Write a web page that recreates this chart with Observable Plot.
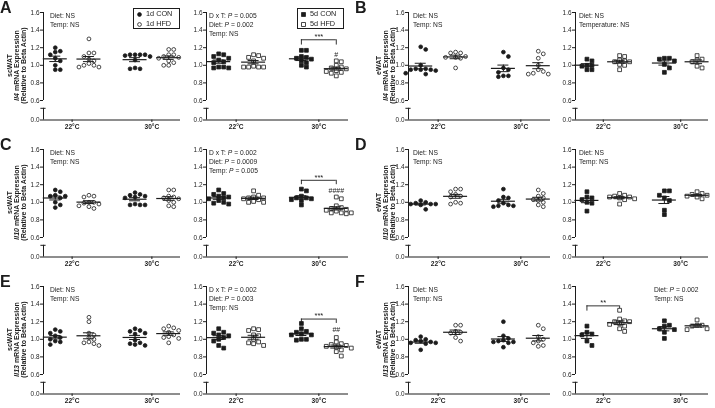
<!DOCTYPE html>
<html><head><meta charset="utf-8">
<script src="https://cdn.jsdelivr.net/npm/d3@7"></script>
<script src="https://cdn.jsdelivr.net/npm/@observablehq/plot@0.6"></script>
<style>
body{margin:0;background:#fff;}
#fig{position:relative;width:715px;height:408px;font-family:"Liberation Sans",Arial,Helvetica,sans-serif;color:#1c1c1c;overflow:hidden;background:#fff;filter:grayscale(1);}
.letter{position:absolute;font-weight:bold;font-size:16px;line-height:16px;}
.ann{position:absolute;font-size:6.7px;line-height:9px;white-space:nowrap;}
.ytitle{position:absolute;width:120px;height:21px;font-weight:bold;font-size:7px;line-height:6.8px;text-align:center;white-space:nowrap;transform:rotate(-90deg);transform-origin:center center;}
.legend{position:absolute;border:0.8px solid #1c1c1c;font-size:7.3px;line-height:10px;white-space:nowrap;padding:0 2px 0 3px;box-sizing:border-box;}
.legend svg{vertical-align:middle;margin-right:4px;}
</style></head>
<body><div id="fig"></div>
<script>
// ---------- categories ----------
const temps = ["22°C", "30°C"];
const diets = ["CON", "HFD"];
const yTicks = [0, 0.6, 0.8, 1.0, 1.2, 1.4, 1.6];
// each subplot: [22°C CON, 22°C HFD, 30°C CON, 30°C HFD]
// scWAT Il4
const A1 = [[1.20,1.15,1.16,1.12,1.08,1.05,1.00,0.95,0.95],
            [1.30,1.14,1.14,1.10,1.07,1.05,1.02,1.00,0.98,0.98,1.00],
            [1.12,1.12,1.12,1.12,1.11,1.10,1.06,0.97,0.96,0.96],
            [1.18,1.18,1.12,1.10,1.09,1.08,1.05,1.03,1.00,1.00,1.12]];
const A5 = [[1.13,1.12,1.10,1.08,1.06,1.04,1.03,0.98,0.97,0.97,0.98],
            [1.12,1.11,1.09,1.08,1.05,0.99,0.98,0.98,0.98,0.98],
            [1.17,1.17,1.10,1.09,1.08,1.07,1.05,1.03,1.00,0.98],
            [1.05,1.04,1.00,0.98,0.97,0.96,0.94,0.93,0.92,0.91,0.88]];
// eWAT Il4
const B1 = [[1.21,1.18,1.00,0.96,0.96,0.95,0.95,0.95,0.94,0.91,0.90],
            [1.15,1.14,1.14,1.10,1.09,1.09,1.08,0.97],
            [1.15,1.10,0.97,0.95,0.92,0.88,0.87,0.88],
            [1.16,1.13,1.08,1.00,0.95,0.90,0.91,0.90,0.93]];
const B5 = [[1.07,1.05,1.00,1.00,0.99,0.95,0.95],
            [1.11,1.10,1.06,1.05,1.04,1.04,1.01,1.00,0.95],
            [1.08,1.08,1.07,1.05,1.01,0.97,0.92],
            [1.11,1.07,1.06,1.04,0.99,0.97]];
// scWAT Il10
const C1 = [[1.14,1.12,1.08,1.07,1.07,1.05,1.00,0.97,0.94],
            [1.08,1.07,1.06,1.00,1.00,0.99,0.98,0.96,0.95,0.93],
            [1.11,1.09,1.08,1.07,1.06,1.05,0.98,0.97,0.97,0.97],
            [1.14,1.14,1.07,1.06,1.05,1.04,1.02,1.00,0.96,0.95]];
const C5 = [[1.14,1.10,1.09,1.07,1.06,1.05,1.04,1.02,1.00,0.98,0.99],
            [1.13,1.08,1.06,1.05,1.05,1.04,1.03,1.01,1.00,1.00],
            [1.15,1.13,1.07,1.05,1.05,1.04,1.03,1.02,0.97],
            [1.06,1.04,0.96,0.94,0.93,0.92,0.91,0.90,0.88,0.88,0.87,0.88]];
// eWAT Il10
const D1 = [[1.02,1.00,0.99,0.98,0.98,0.98,0.97,0.92],
            [1.15,1.15,1.12,1.09,1.07,1.06,1.00,0.98,0.99],
            [1.15,1.06,1.05,1.02,0.99,0.97,0.96,0.95,0.96],
            [1.14,1.10,1.07,1.05,1.03,1.02,1.00,0.97,0.95]];
const D5 = [[1.12,1.06,1.05,1.03,1.00,0.99,0.90],
            [1.10,1.08,1.07,1.06,1.06,1.05,1.04,1.03,0.98],
            [1.13,1.13,1.08,1.05,1.02,0.91,0.86],
            [1.12,1.10,1.09,1.08,1.07,1.06,1.04]];
// scWAT Il13
const E1 = [[1.11,1.09,1.07,1.04,1.02,1.00,0.98,0.97,0.94],
            [1.25,1.20,1.07,1.05,1.02,1.00,0.97,0.96,0.95,0.93],
            [1.12,1.10,1.09,1.07,1.06,0.99,0.96,0.95,0.94,0.93],
            [1.15,1.13,1.12,1.10,1.08,1.05,1.03,1.02,1.01,0.96]];
const E5 = [[1.12,1.08,1.07,1.05,1.04,1.02,1.00,0.98,0.93,0.90],
            [1.12,1.11,1.10,1.05,1.04,1.00,0.97,0.95,0.93,0.96],
            [1.18,1.12,1.09,1.08,1.06,1.05,1.05,1.00,0.99,1.00],
            [1.02,0.97,0.95,0.94,0.93,0.92,0.91,0.90,0.88,0.86,0.81]];
// eWAT Il13
const F1 = [[1.03,1.00,0.99,0.98,0.97,0.96,0.96,0.95,0.88],
            [1.16,1.16,1.09,1.08,1.07,1.02,0.98],
            [1.20,1.04,1.01,0.99,0.98,0.97,0.97,0.91,0.96],
            [1.16,1.12,1.03,1.00,0.98,0.96,0.93,0.92]];
const F5 = [[1.15,1.08,1.06,1.05,0.98,0.93],
            [1.33,1.23,1.21,1.20,1.20,1.18,1.17,1.15,1.12,1.09],
            [1.21,1.16,1.15,1.12,1.11,1.08,1.01],
            [1.22,1.16,1.16,1.15,1.12,1.11]];

// ---------- texts ----------
const letters = ["A","B","C","D","E","F"];
const tissues = ["scWAT","eWAT","scWAT","eWAT","scWAT","eWAT"];
const genes = ["Il4","Il4","Il10","Il10","Il13","Il13"];
const annA1 = ["Diet: NS","Temp: NS"];
const annA5 = ["D x T: P = 0.005","Diet: P = 0.002","Temp: NS"];
const annB1 = ["Diet: NS","Temp: NS"];
const annB5 = ["Diet: NS","Temperature: NS"];
const annC1 = ["Diet: NS","Temp: NS"];
const annC5 = ["D x  T: P = 0.002","Diet: P = 0.0009","Temp: P = 0.005"];
const annD1 = ["Diet: NS","Temp: NS"];
const annD5 = ["Diet: NS","Temp: NS"];
const annE1 = ["Diet: NS","Temp: NS"];
const annE5 = ["D x T: P = 0.002","Diet: P = 0.003","Temp: NS"];
const annF1 = ["Diet: NS","Temp: NS"];
const annF5 = ["Diet: P = 0.002","Temp: NS"];
const legend1 = ["1d CON","1d HFD"];
const legend5 = ["5d CON","5d HFD"];

// ---------- layout ----------
const INK = "#1c1c1c";
const FONT = '"Liberation Sans", Arial, Helvetica, sans-serif';
const cols = [[43,180],[206,348],[408,550],[575,708]];
const rowTops = [11.5, 148.5, 285.5];
const titleX = [16.5, 386];
const PPY = 88, LOWPX = 19.5;
const Y0 = 0.6 - LOWPX/PPY;          // where the broken-axis "0.0" sits on the linear scale
const yMap = v => v >= 0.6 ? v : Y0 + v/0.6*(0.6 - Y0);
const BREAKV = yMap(0.36);
const slot = [0, 1, 2.37, 3.37];
const XDOM = [-0.35, 3.72];
const fig = document.getElementById("fig");

// deterministic Prism-like spreading: points closer than one symbol in y share a row
function swarm(vals, ppy, dx, dy){
  const idx = d3.range(vals.length).sort((a,b)=>vals[b]-vals[a]);
  const placed = [], off = new Array(vals.length);
  for (const i of idx){
    const yi = vals[i]*ppy; let best = null;
    for (let k=0; k<200 && best===null; k++){
      const c = k===0 ? [0] : [k*0.5, -k*0.5];
      for (const cx of c){ if (placed.every(p => Math.abs(p.x-cx) >= dx || Math.abs(p.y-yi) >= dy)) { best = cx; break; } }
    }
    off[i] = best; placed.push({x: best, y: yi});
  }
  return off;
}

function fmtAnn(s){ return s.replace(/\bP =/g, "<i>P</i> ="); }

function addDiv(cls, html, style){
  const el = document.createElement("div"); el.className = cls; el.innerHTML = html;
  Object.assign(el.style, style); fig.appendChild(el); return el;
}

function subplot(p){
  const [x0,x1] = cols[p.col];
  const top = rowTops[p.row];
  const ml=20, mr=4, mt=8, mb=16;
  const innerW = x1-x0, innerH = PPY+LOWPX;
  const W = innerW+ml+mr, H = innerH+mt+mb;
  const ppx = innerW/(XDOM[1]-XDOM[0]);
  const pts = [], stats = [];
  p.vals.forEach((arr, gi) => {
    const off = swarm(arr, PPY, 4.8, 4.4);
    arr.forEach((v,i) => pts.push({gi, v, x: slot[gi] + off[i]/ppx, fill: gi%2===0 ? INK : "white"}));
    const m = d3.mean(arr), s = d3.deviation(arr)/Math.sqrt(arr.length);
    stats.push({x: slot[gi], m, lo: m-s, hi: m+s});
  });
  const sq = p.sym === "square";
  const xt = [ (slot[0]+slot[1])/2, (slot[2]+slot[3])/2 ];
  const marks = [
    Plot.ruleX([XDOM[0]], {y1: 0.6, y2: 1.6, stroke: INK, strokeWidth: 1}),
    Plot.ruleX([XDOM[0]], {y1: yMap(0), y2: BREAKV, stroke: INK, strokeWidth: 1}),
    Plot.ruleY([BREAKV], {x1: XDOM[0]-2.6/ppx, x2: XDOM[0]+2.6/ppx, stroke: INK, strokeWidth: 1}),
    Plot.ruleY([yMap(0)], {x1: XDOM[0], x2: XDOM[1], stroke: INK, strokeWidth: 1}),
    Plot.axisY({ticks: yTicks.map(yMap), tickFormat: d => d < 0.5 ? "0.0" : d3.format(".1f")(d), tickSize: 3, tickPadding: 1, fontSize: 6.4, label: null}),
    Plot.axisX({ticks: xt, tickFormat: d => d < 1.7 ? temps[0] : temps[1], tickSize: 2.5, tickPadding: 2, fontSize: 6.6, fontWeight: "bold", label: null}),
    Plot.dot(pts, {x: "x", y: "v", r: sq ? 2.15 : 1.9, symbol: sq ? "square" : "circle", fill: "fill", stroke: INK, strokeWidth: 0.8}),
    Plot.ruleY(stats, {y: "m", x1: d => d.x-12/ppx, x2: d => d.x+12/ppx, stroke: INK, strokeWidth: 1.2}),
    Plot.ruleX(stats, {x: "x", y1: "lo", y2: "hi", stroke: INK, strokeWidth: 1}),
    Plot.ruleY(stats, {y: "hi", x1: d => d.x-5.5/ppx, x2: d => d.x+5.5/ppx, stroke: INK, strokeWidth: 1}),
    Plot.ruleY(stats, {y: "lo", x1: d => d.x-5.5/ppx, x2: d => d.x+5.5/ppx, stroke: INK, strokeWidth: 1})
  ];
  if (p.br){
    const b = p.br, xa = slot[b.from], xb = slot[b.to];
    marks.push(
      Plot.ruleY([b.y], {x1: xa, x2: xb, stroke: INK, strokeWidth: 0.9}),
      Plot.ruleX([xa], {y1: b.y - b.dropA, y2: b.y, stroke: INK, strokeWidth: 0.9}),
      Plot.ruleX([xb], {y1: b.y - b.dropB, y2: b.y, stroke: INK, strokeWidth: 0.9}),
      Plot.text([b.stars], {x: (xa+xb)/2, y: b.y, text: d => d, dy: -3, fontSize: 7.5, fill: INK})
    );
    if (b.hash) marks.push(Plot.text([b.hash], {x: xb, y: b.hashY, text: d => d, fontSize: 7, fill: INK}));
  }
  const svg = Plot.plot({
    width: W, height: H, marginLeft: ml, marginRight: mr, marginTop: mt, marginBottom: mb,
    x: {domain: XDOM, range: [ml, W-mr], label: null},
    y: {domain: [Y0, 1.6], range: [H-mb, mt], label: null},
    style: {fontFamily: FONT, fontSize: "6.4px", color: INK, background: "transparent", overflow: "visible"},
    marks
  });
  svg.style.position = "absolute";
  svg.style.left = (x0-ml) + "px";
  svg.style.top = (top-mt) + "px";
  fig.appendChild(svg);
  const ax = p.annRight ? p.annRight : x0 + p.annDx;
  addDiv("ann", p.ann.map(fmtAnn).join("<br>"), {left: ax+"px", top: (top-1)+"px"});
}

function legend(x, y, labels, sq){
  const mk = (f) => sq
    ? `<svg width="5" height="5"><rect x="0.6" y="0.6" width="3.8" height="3.8" fill="${f}" stroke="${INK}" stroke-width="0.8"/></svg>`
    : `<svg width="5" height="5"><circle cx="2.5" cy="2.5" r="1.9" fill="${f}" stroke="${INK}" stroke-width="0.8"/></svg>`;
  addDiv("legend", `${mk(INK)}${labels[0]}<br>${mk("white")}${labels[1]}`, {left: x+"px", top: y+"px", width: "47px", height: "21px"});
}

const panels = [
  {vals: A1, col: 0, row: 0, sym: "circle", ann: annA1, annDx: 7},
  {vals: A5, col: 1, row: 0, sym: "square", ann: annA5, annDx: 3, br: {from: 2, to: 3, y: 1.29, dropA: 0.06, dropB: 0.06, stars: "***", hash: "#", hashY: 1.12}},
  {vals: B1, col: 2, row: 0, sym: "circle", ann: annB1, annDx: 5},
  {vals: B5, col: 3, row: 0, sym: "square", ann: annB5, annDx: 4},
  {vals: C1, col: 0, row: 1, sym: "circle", ann: annC1, annDx: 7},
  {vals: C5, col: 1, row: 1, sym: "square", ann: annC5, annDx: 3, br: {from: 2, to: 3, y: 1.25, dropA: 0.05, dropB: 0.05, stars: "***", hash: "####", hashY: 1.13}},
  {vals: D1, col: 2, row: 1, sym: "circle", ann: annD1, annDx: 5},
  {vals: D5, col: 3, row: 1, sym: "square", ann: annD5, annDx: 4},
  {vals: E1, col: 0, row: 2, sym: "circle", ann: annE1, annDx: 7},
  {vals: E5, col: 1, row: 2, sym: "square", ann: annE5, annDx: 3, br: {from: 2, to: 3, y: 1.23, dropA: 0.05, dropB: 0.05, stars: "***", hash: "##", hashY: 1.11}},
  {vals: F1, col: 2, row: 2, sym: "circle", ann: annF1, annDx: 5},
  {vals: F5, col: 3, row: 2, sym: "square", ann: annF5, annRight: 654, br: {from: 0, to: 1, y: 1.38, dropA: 0.06, dropB: 0.03, stars: "**"}}
];
panels.forEach(subplot);

legend(133, 8, legend1, false);
legend(297, 8, legend5, true);

letters.forEach((L, i) => {
  const r = Math.floor(i/2), c = i%2;
  addDiv("letter", L, {left: (c ? 355 : 0)+"px", top: (rowTops[r]-12)+"px"});
  const cy = rowTops[r] + (PPY+LOWPX)/2;
  addDiv("ytitle", `${tissues[i]}<br><i>${genes[i]}</i> mRNA Expression<br>(Relative to Beta Actin)`,
    {left: (titleX[c]-60)+"px", top: (cy-10.5)+"px"});
});
</script></body></html>
